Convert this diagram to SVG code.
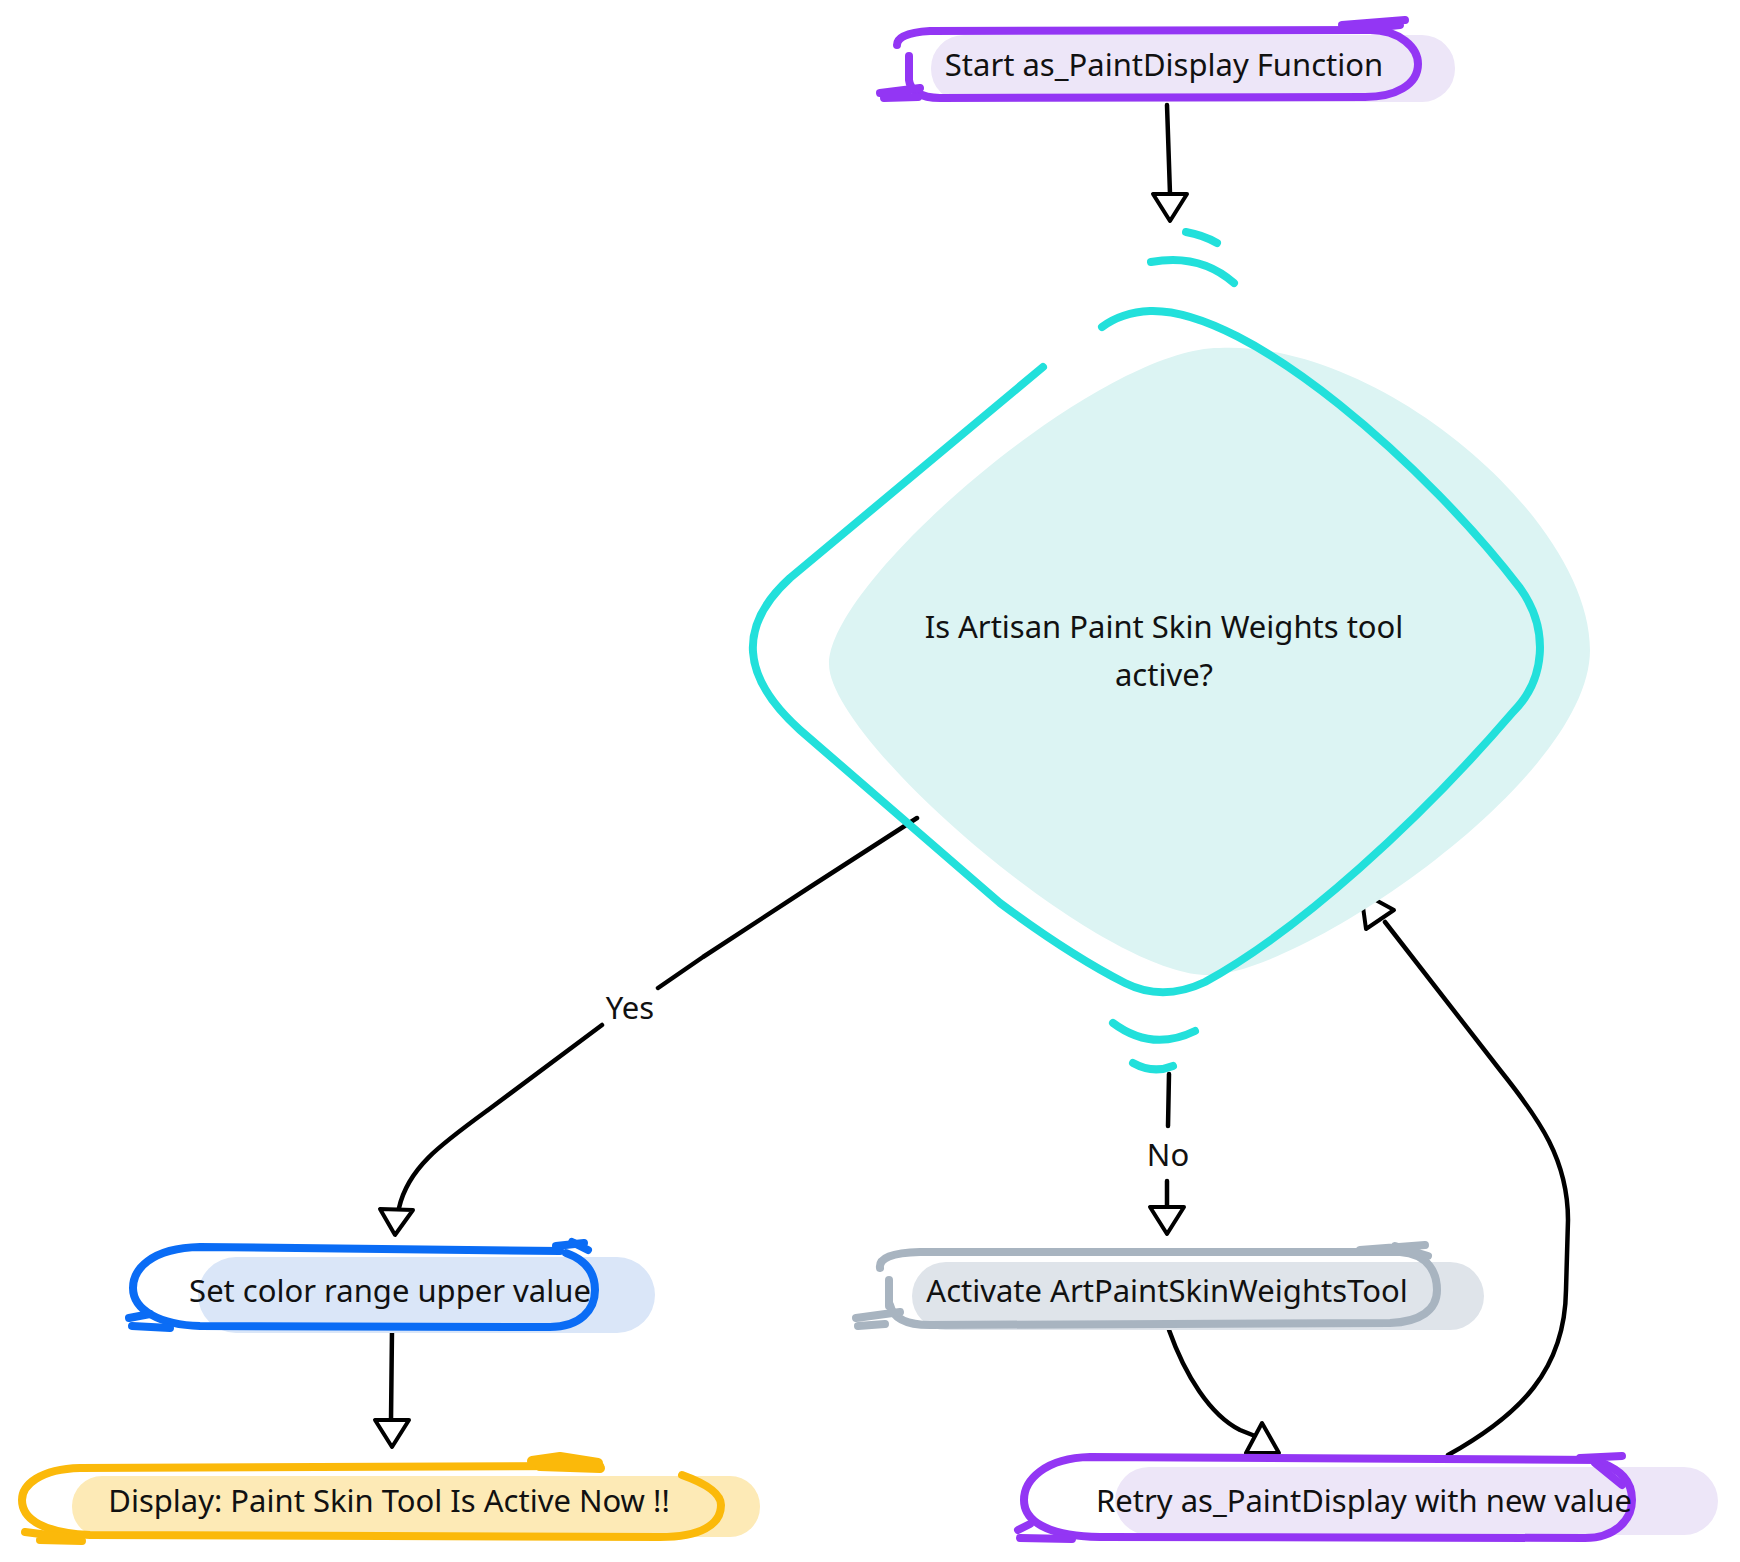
<svg xmlns="http://www.w3.org/2000/svg" width="1740" height="1562" viewBox="0 0 1740 1562">
<style>
.t{font-family:"Noto Sans","Open Sans","DejaVu Sans",sans-serif;font-size:31px;fill:#111;text-anchor:middle;dominant-baseline:central}
.sk{fill:none;stroke-linecap:round;stroke-linejoin:round}
.purple{stroke:#9336F4;stroke-width:8}
.blue{stroke:#0A6CF5;stroke-width:8}
.yellow{stroke:#FBB90A;stroke-width:8}
.grey{stroke:#A8B4C0;stroke-width:8}
.cyan{stroke:#22E0DB;stroke-width:8}
.conn{fill:none;stroke:#000;stroke-width:4.5;stroke-linecap:round;stroke-linejoin:round}
.head{fill:#fff;stroke:#000;stroke-width:4;stroke-linejoin:round}
</style>
<rect width="1740" height="1562" fill="#fff"/>

<g id="connectors">
  <path class="conn" d="M1167 105 L1170 194"/>
  <polygon class="head" points="1170,221 1153,194 1187,194"/>

  <path class="conn" d="M917 818 L810 887 L703 957 L658 988"/>
  <path class="conn" d="M602 1025 L488 1110 C440 1145 408 1168 399 1208"/>
  <polygon class="head" points="395,1235 380,1209 413,1210"/>
  <text class="t" x="630" y="1007">Yes</text>

  <path class="conn" d="M1169 1074 L1168 1126"/>
  <path class="conn" d="M1167 1181 L1167 1207"/>
  <polygon class="head" points="1167,1234 1150,1207 1184,1207"/>
  <text class="t" x="1168" y="1154">No</text>

  <path class="conn" d="M392 1330 L391 1420"/>
  <polygon class="head" points="392,1447 375,1420 409,1420"/>

  <path class="conn" d="M1169 1330 C1185 1375 1210 1415 1240 1430 L1255 1436"/>
  <polygon class="head" points="1262,1423 1246,1453 1279,1453"/>

  <path class="conn" d="M1448 1455 C1520 1415 1565 1370 1566 1290 L1568 1220 C1568 1160 1540 1120 1500 1070 L1385 922"/>
  <polygon class="head" points="1361,892 1366,929 1394,910"/>
</g>

<g id="start">
  <rect x="931" y="35" width="524" height="67" rx="33" fill="#EDE6F8"/>
  <path class="sk purple" d="M897 45 Q897 33 930 31 L1370 30 C1400 30 1418 48 1418 64 C1418 85 1395 97 1365 97 L940 98 C920 98 910 90 909 80 L909 56"/>
  <path class="sk purple" d="M1342 25 L1405 20 M1352 30 L1400 25"/>
  <path class="sk purple" d="M880 93 L920 88 M884 98 L918 97"/>
  <text class="t" x="1164" y="64">Start as_PaintDisplay Function</text>
</g>

<g id="decision">
  <path d="M1219 348 C1380 340 1590 520 1590 650 C1590 780 1300 975 1208 975 C1100 975 829 740 829 664 C829 580 1100 348 1219 348 Z" fill="#DCF4F3"/>
  <path class="sk cyan" d="M1043 367 L790 578 Q711 650 800 730 L1000 903 Q1070 955 1125 983 Q1163 1002 1205 982 C1300 930 1420 820 1513 712 C1545 680 1550 630 1520 588 C1430 470 1250 308 1150 311 C1130 312 1114 318 1102 327"/>
  <path class="sk cyan" d="M1186 232 Q1203 235 1217 243"/>
  <path class="sk cyan" d="M1151 262 Q1200 253 1234 283"/>
  <path class="sk cyan" d="M1113 1023 Q1152 1052 1195 1031"/>
  <path class="sk cyan" d="M1133 1063 Q1153 1074 1173 1066"/>
  <text class="t" x="1164" y="626">Is Artisan Paint Skin Weights tool</text>
  <text class="t" x="1164" y="674">active?</text>
</g>

<g id="setcolor">
  <rect x="198" y="1257" width="457" height="76" rx="38" fill="#DAE6F8"/>
  <path class="sk blue" d="M560 1251 L200 1247 C150 1248 133 1270 133 1288 C133 1310 160 1325 200 1326 L550 1327 C580 1327 595 1310 595 1290 C595 1272 586 1260 566 1253"/>
  <path class="sk blue" d="M556 1246 L584 1243 M572 1242 L588 1250"/>
  <path class="sk blue" d="M129 1318 L150 1314 M132 1326 L170 1328"/>
  <text class="t" x="390" y="1290">Set color range upper value</text>
</g>

<g id="display">
  <rect x="72" y="1476" width="688" height="61" rx="30" fill="#FDEAB6"/>
  <path class="sk yellow" d="M682 1475 C710 1485 721 1495 721 1505 C721 1525 700 1537 660 1537 L90 1535 C45 1533 22 1520 22 1500 C22 1485 40 1469 80 1468 L600 1466"/>
  <path class="sk yellow" d="M532 1461 L560 1457 L598 1463 M540 1466 L600 1468" style="stroke-width:10"/>
  <path class="sk yellow" d="M25 1532 L80 1539 M40 1540 L82 1541"/>
  <text class="t" x="389" y="1500">Display: Paint Skin Tool Is Active Now !!</text>
</g>

<g id="activate">
  <rect x="912" y="1262" width="572" height="68" rx="34" fill="#DFE4EA"/>
  <path class="sk grey" d="M880 1268 Q878 1253 920 1252 L1400 1252 C1430 1254 1437 1275 1437 1290 C1437 1310 1420 1322 1390 1323 L930 1325 C905 1325 893 1318 890 1305"/>
  <path class="sk grey" d="M889 1280 L889 1306"/>
  <path class="sk grey" d="M1360 1250 L1425 1245 M1395 1246 L1428 1256"/>
  <path class="sk grey" d="M856 1318 L900 1312 M858 1326 L885 1324"/>
  <text class="t" x="1167" y="1290">Activate ArtPaintSkinWeightsTool</text>
</g>

<g id="retry">
  <rect x="1115" y="1467" width="603" height="68" rx="34" fill="#EDE6F8"/>
  <path class="sk purple" d="M1600 1460 L1090 1457 C1045 1458 1024 1480 1024 1500 C1024 1520 1045 1536 1100 1537 L1585 1538 C1615 1538 1632 1520 1632 1500 C1632 1480 1620 1470 1600 1462"/>
  <path class="sk purple" d="M1580 1458 L1622 1456 M1595 1463 L1622 1485"/>
  <path class="sk purple" d="M1018 1530 L1030 1524 M1020 1538 L1072 1539"/>
  <text class="t" x="1364" y="1500">Retry as_PaintDisplay with new value</text>
</g>
</svg>
